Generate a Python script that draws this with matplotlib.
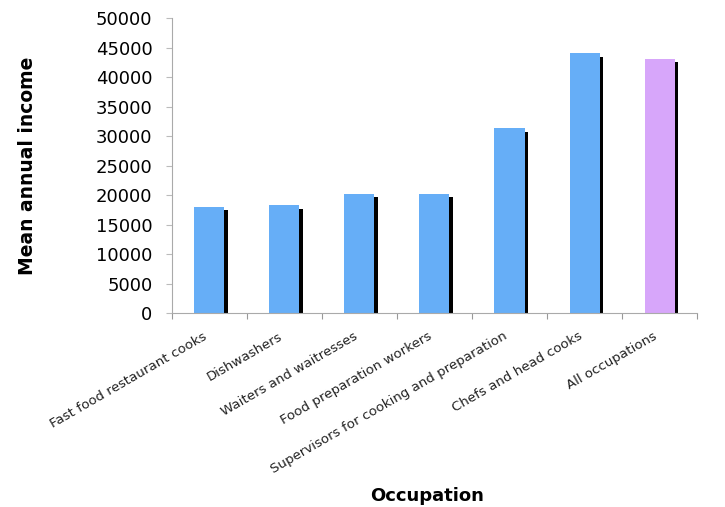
import numpy as np
import matplotlib
matplotlib.use("Agg")
import matplotlib.pyplot as plt
from matplotlib.ticker import FixedLocator

# data
occupations = [
    "Fast food restaurant cooks",
    "Dishwashers",
    "Waiters and waitresses",
    "Food preparation workers",
    "Supervisors for cooking and preparation",
    "Chefs and head cooks",
    "All occupations",
]
mean_income = [18000, 18300, 20200, 20200, 31300, 44000, 43100]
bar_colors = ["#66aef7"] * 6 + ["#d7a6fa"]

y_ticks = list(range(0, 50001, 5000))

fig = plt.figure(figsize=(7.25, 5.07), dpi=100)
ax = fig.add_axes([0.2372, 0.3826, 0.7242, 0.5819])

x = np.arange(len(occupations))
bar_w = 0.40
shadow_w = 0.045

ax.bar(x, mean_income, width=bar_w, color=bar_colors, zorder=2)
# thin dark shadow on the right side of every bar
ax.bar(x + bar_w / 2 + shadow_w / 2, np.array(mean_income) - 600, width=shadow_w,
       color="black", zorder=2)

ax.set_xlim(-0.5, len(occupations) - 0.5)
ax.set_ylim(0, 50000)
ax.set_yticks(y_ticks)
ax.set_yticklabels([str(v) for v in y_ticks], fontsize=13)

ax.set_xticks(x)
ax.set_xticklabels(occupations, rotation=30, ha="right", rotation_mode="default",
                   fontsize=9.6, color="#222222")
ax.tick_params(axis="x", which="major", length=0, pad=12)
ax.xaxis.set_minor_locator(FixedLocator(np.arange(-0.5, len(occupations), 1.0)))
ax.tick_params(axis="x", which="minor", length=4, color="#999999", width=0.8)
ax.tick_params(axis="y", length=4, color="#bbbbbb", width=0.8, pad=10)

for side in ["top", "right"]:
    ax.spines[side].set_visible(False)
for side in ["left", "bottom"]:
    ax.spines[side].set_color("#aaaaaa")
    ax.spines[side].set_linewidth(0.8)

ax.set_ylabel("Mean annual income", fontsize=13.5, fontweight="bold")
ax.yaxis.set_label_coords(-0.257, 0.5)
ax.set_xlabel("Occupation", fontsize=13, fontweight="bold")
ax.xaxis.set_label_coords(0.486, -0.59)

fig.savefig("out.png", dpi=100, facecolor="white")
